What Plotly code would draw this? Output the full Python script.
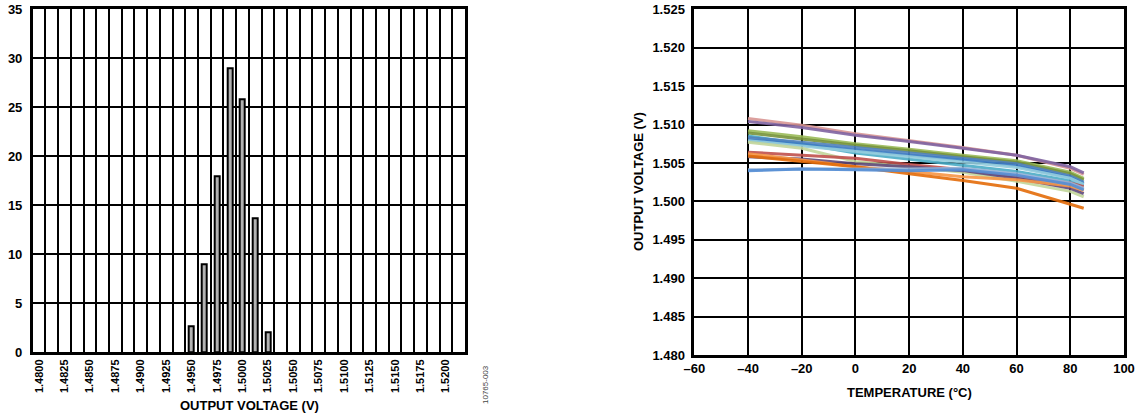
import plotly.graph_objects as go

# === Histograma (painel esquerdo) === #
bar_volts = [1.4950, 1.49625, 1.4975, 1.49875, 1.5000, 1.50125, 1.5025]
bar_counts = [2.7, 9.0, 18.0, 29.0, 25.8, 13.7, 2.0]

hist_tickvals = [1.4800, 1.4825, 1.4850, 1.4875, 1.4900, 1.4925, 1.4950, 1.4975, 1.5000,
                 1.5025, 1.5050, 1.5075, 1.5100, 1.5125, 1.5150, 1.5175, 1.5200]
hist_ticktext = ["1.4800", "1.4825", "1.4850", "1.4875", "1.4900", "1.4925", "1.4950", "1.4975", "1.5000",
                 "1.5025", "1.5050", "1.5075", "1.5100", "1.5125", "1.5150", "1.5175", "1.5200"]

# === Tensão x temperatura (painel direito) === #
temps = [-40, -20, 0, 20, 40, 60, 80, 85]
curvas = {
    "#D99694": [1.5108, 1.5099, 1.5088, 1.5079, 1.5070, 1.5060, 1.5043, 1.5035],
    "#8064A2": [1.5104, 1.5096, 1.5086, 1.5078, 1.5069, 1.5060, 1.5045, 1.5037],
    "#9BBB59": [1.5092, 1.5084, 1.5075, 1.5068, 1.5060, 1.5053, 1.5038, 1.5030],
    "#77933C": [1.5089, 1.5081, 1.5073, 1.5066, 1.5058, 1.5051, 1.5036, 1.5028],
    "#4BACC6": [1.5085, 1.5075, 1.5063, 1.5055, 1.5047, 1.5039, 1.5027, 1.5021],
    "#4F81BD": [1.5083, 1.5077, 1.5070, 1.5063, 1.5056, 1.5049, 1.5033, 1.5025],
    "#3C7DC4": [1.5080, 1.5074, 1.5067, 1.5060, 1.5054, 1.5046, 1.5031, 1.5023],
    "#93CDDD": [1.5079, 1.5072, 1.5065, 1.5058, 1.5051, 1.5044, 1.5030, 1.5022],
    "#C3D69B": [1.5077, 1.5069, 1.5052, 1.5045, 1.5038, 1.5026, 1.5013, 1.5006],
    "#C0504D": [1.5064, 1.5060, 1.5056, 1.5048, 1.5041, 1.5032, 1.5024, 1.5019],
    "#604A7B": [1.5058, 1.5055, 1.5049, 1.5045, 1.5040, 1.5030, 1.5017, 1.5010],
    "#F79646": [1.5062, 1.5054, 1.5045, 1.5039, 1.5032, 1.5028, 1.5020, 1.5014],
    "#E46C0A": [1.5059, 1.5052, 1.5045, 1.5036, 1.5027, 1.5017, 1.4997, 1.4991],
    "#95B3D7": [1.5041, 1.5042, 1.5042, 1.5042, 1.5043, 1.5036, 1.5024, 1.5017],
    "#558ED5": [1.5040, 1.5042, 1.5041, 1.5040, 1.5041, 1.5034, 1.5022, 1.5015],
}

temp_tickvals = [-60, -40, -20, 0, 20, 40, 60, 80, 100]
temp_ticktext = ["\u201360", "\u201340", "\u201320", "0", "20", "40", "60", "80", "100"]

FONTE = "Liberation Sans, Arial, sans-serif"
W, H = 1144, 415


def px_x(x):
    return x / W


def px_y(y):
    return 1 - y / H


fig = go.Figure()

fig.add_trace(
    go.Bar(
        x=bar_volts,
        y=bar_counts,
        width=0.0005,
        marker=dict(color="#B2B2B2", line=dict(color="black", width=2)),
        xaxis="x",
        yaxis="y",
        showlegend=False,
    )
)

for cor, v in curvas.items():
    fig.add_trace(
        go.Scatter(
            x=temps,
            y=v,
            mode="lines",
            line=dict(color=cor, width=3),
            opacity=0.9,
            xaxis="x2",
            yaxis="y2",
            showlegend=False,
        )
    )

eixo = dict(
    showline=True,
    mirror=True,
    linecolor="black",
    linewidth=2.5,
    gridcolor="black",
    gridwidth=1.6,
    zeroline=False,
    automargin=False,
    ticklabeloverflow="allow",
    tickfont=dict(family=FONTE, size=13, color="black", weight="bold"),
)

fig.update_layout(
    width=W,
    height=H,
    margin=dict(l=0, r=0, t=0, b=0),
    plot_bgcolor="white",
    paper_bgcolor="white",
    bargap=0,
    xaxis=dict(
        eixo,
        domain=[px_x(32.7), px_x(465)],
        range=[1.479375, 1.521875],
        tickvals=hist_tickvals,
        ticktext=hist_ticktext,
        tickangle=-90,
        tickfont=dict(family=FONTE, size=11, color="black", weight="bold"),
        showgrid=False,
        ticks="",
        minor=dict(tick0=1.479375, dtick=0.00125, showgrid=True,
                   gridcolor="black", gridwidth=1.6, ticks=""),
        anchor="y",
    ),
    yaxis=dict(
        eixo,
        domain=[px_y(352.3), px_y(9.3)],
        range=[0, 35],
        dtick=5,
        showgrid=True,
        ticks="outside",
        ticklen=5,
        tickcolor="rgba(0,0,0,0)",
        anchor="x",
    ),
    xaxis2=dict(
        eixo,
        domain=[px_x(694.3), px_x(1124)],
        range=[-60, 100],
        tickvals=temp_tickvals,
        ticktext=temp_ticktext,
        showgrid=True,
        ticks="",
        anchor="y2",
    ),
    yaxis2=dict(
        eixo,
        domain=[px_y(355), px_y(9.3)],
        range=[1.480, 1.525],
        dtick=0.005,
        tickformat=".3f",
        showgrid=True,
        ticks="outside",
        ticklen=4,
        tickcolor="rgba(0,0,0,0)",
        anchor="x2",
    ),
)

titulo = dict(family=FONTE, size=13, color="black", weight="bold")
fig.add_annotation(text="OUTPUT VOLTAGE (V)", x=px_x(249), y=px_y(405), xref="paper", yref="paper",
                   showarrow=False, font=titulo, xanchor="center", yanchor="middle")
fig.add_annotation(text="TEMPERATURE (\u00b0C)", x=px_x(909), y=px_y(392), xref="paper", yref="paper",
                   showarrow=False, font=titulo, xanchor="center", yanchor="middle")
fig.add_annotation(text="OUTPUT VOLTAGE (V)", x=px_x(638), y=px_y(182), xref="paper", yref="paper",
                   showarrow=False, font=titulo, textangle=-90, xanchor="center", yanchor="middle")
fig.add_annotation(text="10765-003", x=px_x(485), y=px_y(385), xref="paper", yref="paper",
                   showarrow=False, font=dict(family=FONTE, size=8, color="#444444"),
                   textangle=-90, xanchor="center", yanchor="middle")

# tira a margem padrão do <body> para o gráfico ocupar a janela toda
fig.write_html(
    "out.html",
    config={"displayModeBar": False},
    post_script="document.body.style.margin='0';",
)
